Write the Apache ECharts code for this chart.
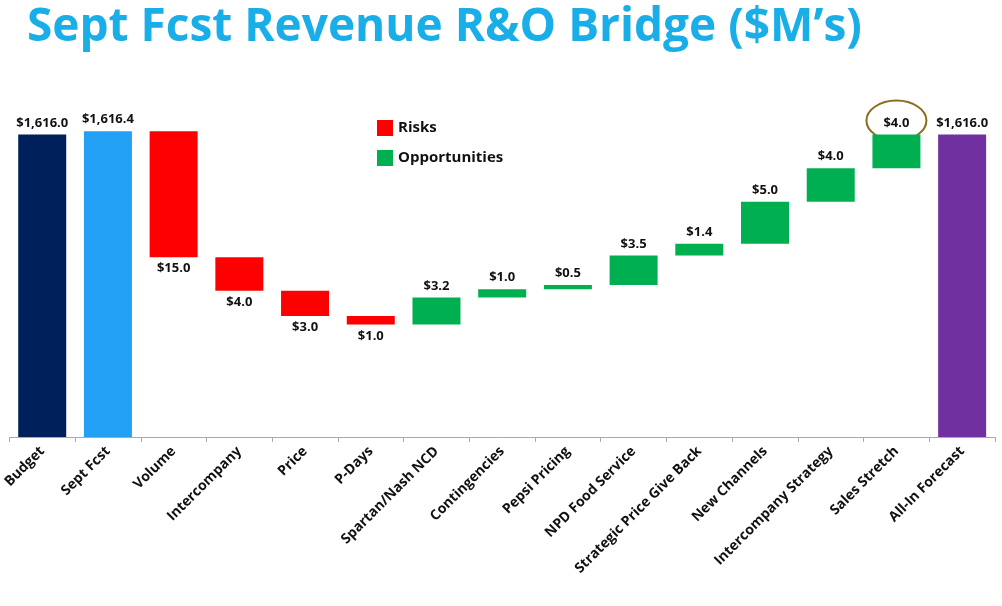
<!DOCTYPE html>
<html>
<head>
<meta charset="utf-8">
<script src="https://cdn.jsdelivr.net/npm/echarts@6/dist/echarts.min.js"></script>
<style>html,body{margin:0;background:#fff}#main{width:1002px;height:606px}</style>
</head>
<body>
<div id="main"></div>
<script>
var categories = ['Budget','Sept Fcst','Volume','Intercompany','Price','P-Days','Spartan/Nash NCD','Contingencies','Pepsi Pricing','NPD Food Service','Strategic Price Give Back','New Channels','Intercompany Strategy','Sales Stretch','All-In Forecast'];
// totals (null = bridge step)
var totals = [1616.0, 1616.4, null,null,null,null,null,null,null,null,null,null,null,null, 1616.0];
// bridge steps: negative = risk, positive = opportunity
var deltas = [null, null, -15.0, -4.0, -3.0, -1.0, 3.2, 1.0, 0.5, 3.5, 1.4, 5.0, 4.0, 4.0, null];
var totalColors = ['#00205b','#22a0f5',null,null,null,null,null,null,null,null,null,null,null,null,'#7030a0'];

var base = [], risks = [], opps = [], tot = [];
var run = 0;
for (var i = 0; i < categories.length; i++) {
  if (totals[i] !== null) {
    run = totals[i];
    base.push(0); risks.push('-'); opps.push('-');
    tot.push({value: totals[i], itemStyle: {color: totalColors[i]}});
  } else {
    var d = deltas[i];
    tot.push('-');
    if (d < 0) { run += d; base.push(run); risks.push(-d); opps.push('-'); }
    else { base.push(run); opps.push(d); risks.push('-'); run += d; }
  }
}
function fmt(v){ return '$' + v.toLocaleString('en-US',{minimumFractionDigits:1,maximumFractionDigits:1}); }
var lbl = {show:true, fontWeight:'bold', fontSize:13, color:'#111', fontFamily:'Open Sans'};

var myChart = echarts.init(document.getElementById('main'));
var option = {
  animation:false,
  title:{text:"Sept Fcst Revenue R&O Bridge ($M’s)", left:22, top:0,
    textStyle:{color:'#1aaee8', fontSize:46, fontWeight:'bold', fontFamily:'Open Sans'}},
  legend:{left:372, top:115, orient:'vertical', itemGap:14, itemWidth:16, itemHeight:16,
    icon:'rect', data:['Risks','Opportunities'],
    textStyle:{fontWeight:'bold', fontSize:15, color:'#111', fontFamily:'Open Sans'}},
  grid:{left:9, right:7, top:101, bottom:169},
  xAxis:{type:'category', data:categories,
    axisLine:{lineStyle:{color:'#aaa'}}, axisTick:{show:true, lineStyle:{color:'#aaa'}},
    axisLabel:{rotate:45, interval:0, fontWeight:'bold', fontSize:14, color:'#111', fontFamily:'Open Sans', margin:12}},
  yAxis:{type:'value', min:1580, max:1620, show:false, splitLine:{show:false}},
  series:[
    {name:'base', type:'bar', stack:'a', data:base, itemStyle:{color:'transparent'}, barWidth:48, silent:true},
    {name:'Totals', type:'bar', stack:'a', data:tot, barWidth:48,
      label:Object.assign({position:'top', formatter:function(p){return fmt(p.value);}}, lbl)},
    {name:'Risks', type:'bar', stack:'a', data:risks, itemStyle:{color:'#ff0000'}, barWidth:48,
      label:Object.assign({position:'bottom', formatter:function(p){return fmt(p.value);}}, lbl)},
    {name:'Opportunities', type:'bar', stack:'a', data:opps, itemStyle:{color:'#00b050'}, barWidth:48,
      label:Object.assign({position:'top', formatter:function(p){return fmt(p.value);}}, lbl)}
  ]
};
myChart.setOption(option);
// circle round the Sales Stretch label
var idx = 13;
var pt = myChart.convertToPixel({gridIndex:0}, [idx, base[idx] + opps[idx]]);
myChart.setOption({graphic:[{type:'ellipse', shape:{cx:pt[0], cy:pt[1]-14, rx:30, ry:20},
  style:{fill:'none', stroke:'#8a6d1a', lineWidth:2}}]});
</script>
</body>
</html>
